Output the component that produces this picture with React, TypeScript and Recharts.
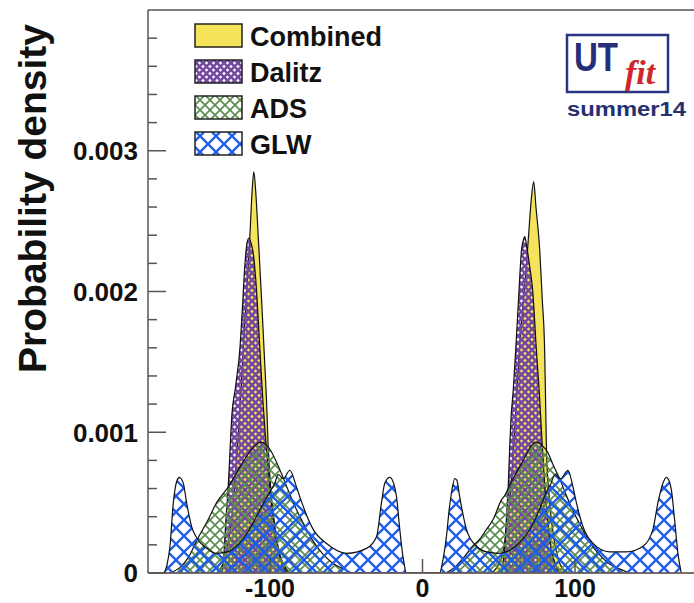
import React from 'react';
import { AreaChart, Area, XAxis, YAxis, ReferenceLine } from 'recharts';

// gamma [deg] vs probability density, density read in units of 1e-3
const combinedPts: [number, number][] = [
  [-135, 0], [-131, 0.06], [-128, 0.18], [-125, 0.4], [-123, 0.65], [-121, 0.95], [-119, 1.3],
  [-117, 1.7], [-115, 2.05], [-113.2, 2.39], [-111.8, 2.7], [-110.6, 2.85], [-109.3, 2.7],
  [-107.7, 2.39], [-105.5, 1.94], [-103.5, 1.5], [-102.3, 1.23], [-101.2, 0.9], [-99.5, 0.6],
  [-97, 0.35], [-94, 0.15], [-90, 0.04], [-86, 0],
  [44, 0], [48, 0.03], [52, 0.12], [55, 0.3], [57.5, 0.55], [59.5, 0.85], [61.5, 1.2], [63.5, 1.58],
  [65.5, 1.85], [67.5, 2.1], [69.5, 2.39], [71.3, 2.65], [72.9, 2.78], [74.4, 2.6], [76.9, 2.29],
  [78.5, 1.95], [80.1, 1.58], [80.7, 1.23], [81.3, 0.87], [83, 0.55], [85.5, 0.3], [88.5, 0.12],
  [92, 0.03], [96, 0],
];

const dalitzPts: [number, number][] = [
  [-131.7, 0], [-130.2, 0.14], [-128.9, 0.38], [-127.4, 0.61], [-126.3, 0.85], [-125.2, 1.09],
  [-122.5, 1.33], [-119.7, 1.6], [-118, 1.9], [-116.4, 2.2], [-115, 2.35], [-113.8, 2.38],
  [-112.3, 2.34], [-110.7, 2.25], [-108.5, 1.95], [-106.6, 1.58], [-104.8, 1.25], [-102.2, 0.87],
  [-100, 0.6], [-97.5, 0.35], [-94.5, 0.15], [-91, 0.04], [-88, 0],
  [51.8, 0], [53.5, 0.14], [55, 0.38], [56.2, 0.61], [57.2, 0.9], [58, 1.09], [59.5, 1.3],
  [61.1, 1.58], [63, 1.95], [64.9, 2.29], [66, 2.36], [67, 2.39], [68.2, 2.33], [70, 2.2],
  [72.3, 2.0], [74.7, 1.58], [76.5, 1.3], [78.3, 0.95], [80, 0.65], [82, 0.38], [84.5, 0.17],
  [87.5, 0.05], [90, 0],
];

const adsPts: [number, number][] = [
  [-166, 0], [-159, 0.04], [-153, 0.12], [-148.1, 0.23], [-140.5, 0.38], [-135, 0.5],
  [-131.7, 0.55], [-127.4, 0.61], [-122, 0.71], [-117, 0.8], [-112, 0.88], [-106, 0.93],
  [-101.5, 0.9], [-99, 0.86], [-95, 0.77], [-91.5, 0.68], [-87, 0.56], [-82.6, 0.45], [-77, 0.33],
  [-71.9, 0.23], [-65, 0.13], [-58.8, 0.07], [-52, 0.03], [-45, 0],
  [14, 0], [21, 0.04], [27, 0.11], [32, 0.18], [37.5, 0.24], [42, 0.31], [46.3, 0.38], [51.8, 0.52],
  [53.9, 0.55], [57, 0.62], [62, 0.72], [67, 0.82], [71, 0.9], [74.9, 0.93], [79, 0.9], [82, 0.86],
  [86, 0.76], [89.5, 0.68], [94, 0.56], [98.4, 0.45], [104, 0.33], [109, 0.23], [116, 0.13],
  [122, 0.07], [129, 0.03], [136, 0],
];

const glwPts: [number, number][] = [
  [-169.5, 0], [-167.5, 0.06], [-165.6, 0.19], [-163.4, 0.5], [-161.2, 0.65], [-159.5, 0.68],
  [-156.9, 0.64], [-154.7, 0.5], [-151.4, 0.33], [-148.1, 0.25], [-142, 0.18], [-135, 0.14],
  [-128, 0.15], [-121, 0.2], [-114, 0.3], [-107, 0.44], [-101, 0.56], [-96.8, 0.64], [-94.6, 0.7],
  [-91.3, 0.67], [-87, 0.73], [-82.6, 0.61], [-80.4, 0.54], [-76, 0.41], [-71.7, 0.31],
  [-62.9, 0.21], [-49.8, 0.14], [-36.7, 0.175], [-30.1, 0.26], [-26.9, 0.5], [-24.7, 0.64],
  [-21.4, 0.68], [-19, 0.64], [-17, 0.54], [-14.9, 0.31], [-13, 0.13], [-11.6, 0.04], [-10.9, 0],
  [11.3, 0], [13, 0.07], [15.7, 0.26], [17.5, 0.45], [19, 0.57], [21.2, 0.67], [22.5, 0.66],
  [24.4, 0.54], [28.8, 0.31], [35.4, 0.19], [42, 0.15], [50, 0.14], [57, 0.16], [64, 0.22],
  [71, 0.32], [77, 0.46], [81, 0.57], [84, 0.63], [87, 0.7], [90.5, 0.67], [95.4, 0.73],
  [98.5, 0.62], [100.9, 0.5], [105.2, 0.33], [111.8, 0.21], [122.7, 0.15], [133.7, 0.15],
  [144.6, 0.19], [151.1, 0.31], [154.4, 0.5], [157.7, 0.64], [159.9, 0.68], [161.5, 0.66],
  [163.2, 0.59], [165.3, 0.38], [167.5, 0.14], [169.7, 0],
];

const xTicks = [-100, 0, 100];
const yMajorTicks = [0, 0.001, 0.002, 0.003];
const yMinorTicks = [
  0.0002, 0.0004, 0.0006, 0.0008, 0.0012, 0.0014, 0.0016, 0.0018,
  0.0022, 0.0024, 0.0026, 0.0028, 0.0032, 0.0034, 0.0036, 0.0038,
];
const legendNames = ['Combined', 'Dalitz', 'ADS', 'GLW'];

const toRows = (pts: [number, number][]) => pts.map(([x, y]) => ({ x, y: y / 1000 }));

const FONT = '"Liberation Sans", Arial, Helvetica, sans-serif';
const YELLOW = '#f5e35b';
const PURPLE = '#74489f';
const GREEN = '#5b8e4d';
const BLUE = '#1f5ce8';
const FRAME = '#555';
const TICK_MARGIN = 10;

const Hatch = ({ id, size, color, width }: { id: string; size: number; color: string; width: number }) => (
  <pattern id={id} patternUnits="userSpaceOnUse" width={size} height={size}>
    <path
      d={`M-1,-1 L${size + 1},${size + 1} M${size + 1},-1 L-1,${size + 1}`}
      stroke={color}
      strokeWidth={width}
      fill="none"
    />
  </pattern>
);

const patterns = (prefix: string) => (
  <defs>
    <Hatch id={`${prefix}dalitz`} size={7} color={PURPLE} width={2.6} />
    <Hatch id={`${prefix}ads`} size={10} color={GREEN} width={1.7} />
    <Hatch id={`${prefix}glw`} size={16} color={BLUE} width={2.3} />
  </defs>
);

const fills = (prefix: string) => [YELLOW, `url(#${prefix}dalitz)`, `url(#${prefix}ads)`, `url(#${prefix}glw)`];

const YTick = (props: any) => {
  const { x, y, payload } = props;
  const v = payload.value as number;
  const major = yMajorTicks.some((t) => Math.abs(t - v) < 1e-9);
  const axisX = x + TICK_MARGIN;
  return (
    <g>
      <line x1={axisX} x2={axisX + (major ? 18 : 9)} y1={y} y2={y} stroke={FRAME} strokeWidth={1.5} />
      {major && (
        <text x={x} y={y} dy="0.36em" textAnchor="end" fontFamily={FONT} fontWeight="bold" fontSize={26} fill="#111">
          {v === 0 ? '0' : v.toFixed(3)}
        </text>
      )}
    </g>
  );
};

const XTick = (props: any) => {
  const { x, y, payload } = props;
  return (
    <g>
      <line x1={x} x2={x} y1={y} y2={y - 14} stroke={FRAME} strokeWidth={1.5} />
      <text x={x} y={y + 24} textAnchor="middle" fontFamily={FONT} fontWeight="bold" fontSize={25} fill="#111">
        {payload.value}
      </text>
    </g>
  );
};

export default function App() {
  const series = [combinedPts, dalitzPts, adsPts, glwPts];
  const chartFills = fills('p-');
  const legendFills = fills('l-');
  return (
    <div style={{ position: 'fixed', left: 0, top: 0, width: 694, height: 603, overflow: 'hidden', background: '#fff' }}>
      <AreaChart width={700} height={603} margin={{ top: 10, right: 3, bottom: 0, left: 0 }}>
        {patterns('p-')}
        <XAxis
          type="number"
          dataKey="x"
          domain={[-180, 180]}
          allowDataOverflow
          ticks={xTicks}
          interval={0}
          tick={<XTick />}
          tickLine={false}
          tickSize={0}
          tickMargin={0}
          height={30}
          axisLine={{ stroke: FRAME, strokeWidth: 1.5 }}
        />
        <YAxis
          type="number"
          domain={[0, 0.004]}
          allowDataOverflow
          ticks={[...yMajorTicks, ...yMinorTicks]}
          interval={0}
          tick={<YTick />}
          tickLine={false}
          tickSize={0}
          tickMargin={TICK_MARGIN}
          width={148}
          axisLine={{ stroke: FRAME, strokeWidth: 1.5 }}
        />
        {series.map((pts, i) => (
          <Area
            key={legendNames[i]}
            name={legendNames[i]}
            data={toRows(pts)}
            dataKey="y"
            type="monotone"
            fill={chartFills[i]}
            fillOpacity={1}
            stroke="#111"
            strokeWidth={1.2}
            dot={false}
            activeDot={false}
            isAnimationActive={false}
          />
        ))}
        <ReferenceLine y={0} stroke="#c98070" strokeWidth={1.2} />
        <ReferenceLine y={0.004} stroke={FRAME} strokeWidth={1.5} />
        <ReferenceLine x={180} stroke={FRAME} strokeWidth={1.5} />
      </AreaChart>

      <svg width={694} height={603} style={{ position: 'absolute', left: 0, top: 0, pointerEvents: 'none' }}>
        {patterns('l-')}
        <text
          transform="translate(46, 24) rotate(-90)"
          textAnchor="end"
          fontFamily={FONT}
          fontWeight="bold"
          fontSize={39}
          fill="#111"
        >
          Probability density
        </text>
        {legendNames.map((name, i) => (
          <g key={name}>
            <rect x={195} y={24 + i * 36} width={47} height={23} fill="#fff" />
            <rect x={195} y={24 + i * 36} width={47} height={23} fill={legendFills[i]} stroke="#222" strokeWidth={1.5} />
            <text x={250} y={46 + i * 36} fontFamily={FONT} fontWeight="bold" fontSize={27} fill="#111">
              {name}
            </text>
          </g>
        ))}
        <rect x={567} y={35} width={101} height={57} fill="#fff" stroke="#2b3480" strokeWidth={2.5} />
        <text x={574} y={71} fontFamily={FONT} fontWeight="bold" fontSize={40} fill="#252e78" textLength={44} lengthAdjust="spacingAndGlyphs">
          UT
        </text>
        <text x={625} y={84} fontFamily='"Liberation Serif", "Times New Roman", serif' fontStyle="italic" fontWeight="bold" fontSize={34} fill="#d0282a">
          fit
        </text>
        <text x={567} y={116} fontFamily={FONT} fontWeight="bold" fontSize={20} fill="#25306e" textLength={119} lengthAdjust="spacingAndGlyphs">
          summer14
        </text>
      </svg>
    </div>
  );
}
